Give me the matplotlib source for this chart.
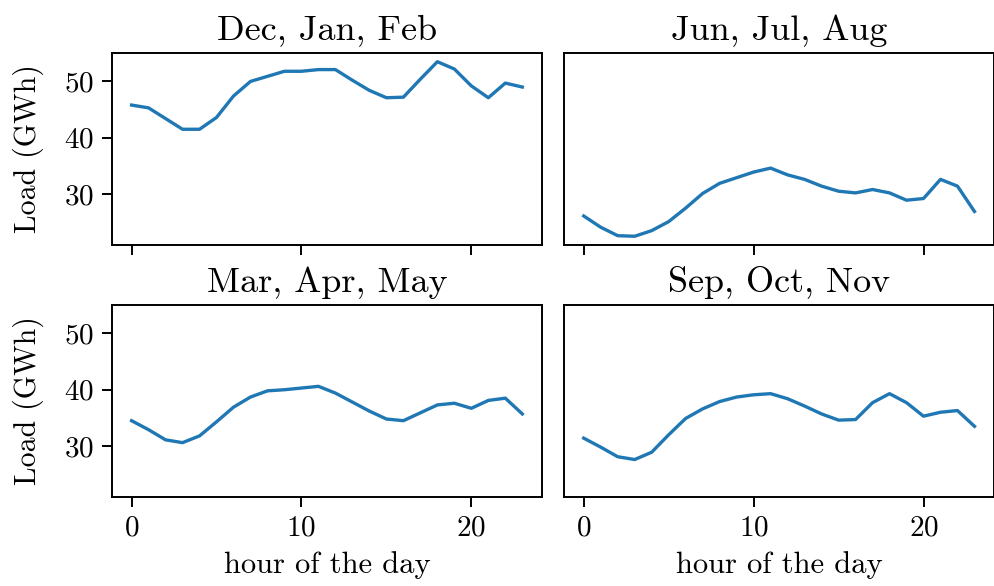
import numpy as np
import matplotlib
matplotlib.use("Agg")
import matplotlib.pyplot as plt

plt.rcParams['font.family'] = 'serif'
plt.rcParams['font.serif'] = ['cmr10']
plt.rcParams['mathtext.fontset'] = 'cm'
plt.rcParams['axes.formatter.use_mathtext'] = True

hours = list(range(24))

# mean hourly load per season (GWh)
winter = [45.8, 45.3, 43.4, 41.5, 41.5, 43.6, 47.4, 50.0, 50.9, 51.8, 51.8, 52.1,
          52.1, 50.2, 48.4, 47.1, 47.2, 50.4, 53.5, 52.2, 49.2, 47.1, 49.7, 49.0]
summer = [26.1, 24.1, 22.6, 22.5, 23.5, 25.1, 27.5, 30.1, 31.9, 32.9, 33.9, 34.6,
          33.4, 32.6, 31.4, 30.5, 30.2, 30.8, 30.2, 28.9, 29.2, 32.6, 31.4, 26.9]
spring = [34.5, 32.9, 31.1, 30.6, 31.8, 34.3, 36.9, 38.7, 39.8, 40.0, 40.3, 40.6,
          39.4, 37.8, 36.2, 34.8, 34.5, 35.9, 37.3, 37.6, 36.7, 38.1, 38.5, 35.7]
autumn = [31.4, 29.8, 28.1, 27.6, 28.9, 32.0, 34.9, 36.6, 37.9, 38.7, 39.1, 39.3,
          38.4, 37.1, 35.7, 34.6, 34.7, 37.7, 39.3, 37.7, 35.3, 36.0, 36.3, 33.5]

seasons = ['Dec, Jan, Feb', 'Jun, Jul, Aug', 'Mar, Apr, May', 'Sep, Oct, Nov']
loads = [winter, summer, spring, autumn]

fig, axes = plt.subplots(2, 2, sharex=True, sharey=True, figsize=(9.95, 5.86), dpi=100)
fig.subplots_adjust(left=0.1126, right=0.999, top=0.9096, bottom=0.1519,
                    wspace=0.052, hspace=0.3125)

for ax, name, load in zip(axes.flat, seasons, loads):
    ax.plot(hours, load, color='#1f77b4', lw=2.4)
    ax.set_title(name, fontsize=26, pad=9)
    ax.tick_params(labelsize=21, length=7.2, width=1.4, pad=6)
    for s in ax.spines.values():
        s.set_linewidth(1.4)

# right column: no y ticks at all
for ax in axes[:, 1]:
    ax.tick_params(axis='y', left=False)

for ax in axes[:, 0]:
    ax.set_ylabel('Load (GWh)', fontsize=21.5, labelpad=14)
for ax in axes[1, :]:
    ax.set_xlabel('hour of the day', fontsize=22, labelpad=7)

ax.set_yticks([30, 40, 50])
ax.set_xticks([0, 10, 20])

fig.savefig('out.png', dpi=100)
